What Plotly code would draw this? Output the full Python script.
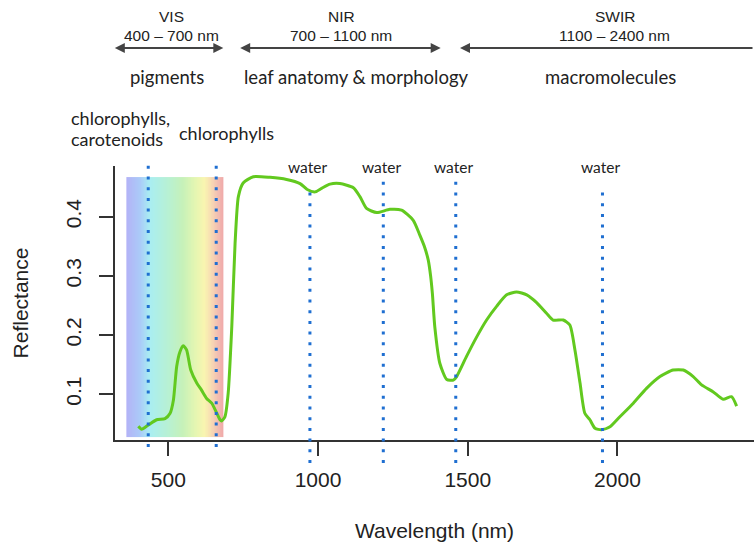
import numpy as np
import plotly.graph_objects as go

# ---- data ----
wavelength = [400, 411, 433, 461, 489, 506, 517, 528, 539, 550, 561, 575, 595, 611, 628,
              645, 662, 673, 678, 689, 700, 712, 723, 734, 750, 784, 840, 895, 940, 964,
              990, 1012, 1040, 1073, 1118, 1140, 1162, 1196, 1240, 1279, 1318, 1340, 1355,
              1368, 1376, 1382, 1390, 1407, 1430, 1452, 1463, 1496, 1530, 1563, 1597, 1630,
              1663, 1697, 1730, 1763, 1785, 1819, 1841, 1858, 1875, 1891, 1908, 1925, 1947,
              1975, 2008, 2053, 2097, 2142, 2186, 2220, 2253, 2281, 2320, 2353, 2381, 2398]
reflectance = [0.046, 0.041, 0.048, 0.057, 0.059, 0.068, 0.090, 0.147, 0.172, 0.182, 0.175,
               0.141, 0.119, 0.107, 0.093, 0.085, 0.068, 0.057, 0.055, 0.062, 0.102, 0.214,
               0.355, 0.434, 0.457, 0.4676, 0.4665, 0.463, 0.456, 0.446, 0.442, 0.448, 0.455,
               0.456, 0.449, 0.434, 0.414, 0.407, 0.4125, 0.411, 0.394, 0.369, 0.350, 0.327,
               0.300, 0.270, 0.214, 0.152, 0.125, 0.124, 0.130, 0.164, 0.197, 0.2255, 0.249,
               0.268, 0.273, 0.268, 0.255, 0.237, 0.2255, 0.2255, 0.217, 0.175, 0.119, 0.068,
               0.057, 0.0426, 0.040, 0.045, 0.062, 0.085, 0.110, 0.130, 0.141, 0.141, 0.130,
               0.116, 0.104, 0.0915, 0.096, 0.080]

pigment_lines = [433, 660]                 # chlorophylls/carotenoids, chlorophylls
water_lines = [973, 1218, 1460, 1950]      # water absorption features
vis_band = [360, 685]                      # visible colour band (nm)
vis_band_refl = [0.028, 0.467]

x_ticks = [500, 1000, 1500, 2000]
y_ticks = [0.1, 0.2, 0.3, 0.4]
y_tick_text = ["0.1", "0.2", "0.3", "0.4"]

# ---- layout geometry (pixels) ----
W, H = 754, 546
L, R, T, B = 115, 754, 166, 440


def pxx(p):
    return (p - L) / (R - L)


def pxy(p):
    return (B - p) / (B - T)


SANS = "Liberation Sans, Arial, sans-serif"
SOFT = "Lato, sans-serif"
INK = "#222222"

fig = go.Figure()

# rainbow band
edges = np.linspace(vis_band[0], vis_band[1], 131)
centers = (edges[:-1] + edges[1:]) / 2
rainbow = [
    [0.00, "#b3b3f7"], [0.14, "#aacbf8"], [0.24, "#a9eef2"], [0.45, "#b9f1d0"],
    [0.58, "#c6f1b9"], [0.71, "#e4f6b2"], [0.81, "#f9f5b0"], [0.88, "#f7dab3"],
    [0.95, "#f2bdb2"], [1.00, "#f0a9a9"],
]
fig.add_trace(go.Heatmap(
    x=edges, y=vis_band_refl, z=[centers],
    colorscale=rainbow, showscale=False, hoverinfo="skip",
))

# reflectance curve
fig.add_trace(go.Scatter(
    x=wavelength, y=reflectance, mode="lines",
    line=dict(color="#62c91f", width=3, shape="spline", smoothing=0.6),
    hoverinfo="skip", showlegend=False,
))

# dotted vertical lines
dot_color = "#1f6fd1"
line_top_px = {433: 161, 660: 161, 973: 187, 1218: 176, 1460: 177, 1950: 185}
line_bot_px = {433: 447, 660: 447, 973: 463, 1218: 463, 1460: 463, 1950: 463}
for wl in pigment_lines + water_lines:
    fig.add_shape(type="line", xref="x", yref="paper", x0=wl, x1=wl,
                  y0=pxy(line_bot_px[wl]), y1=pxy(line_top_px[wl]),
                  line=dict(color=dot_color, width=3, dash="3px,7.7px"))

ann = []


def label(cx, cy, text, family, size, xanchor="center"):
    ann.append(dict(x=pxx(cx), y=pxy(cy), xref="paper", yref="paper", text=text,
                    xanchor=xanchor, yanchor="middle", showarrow=False,
                    font=dict(family=family, size=size, color=INK)))


# water labels
for wl in water_lines:
    ann.append(dict(x=wl, xref="x", y=pxy(167), yref="paper", text="water",
                    xanchor="center", yanchor="middle", showarrow=False, xshift=-2,
                    font=dict(family=SOFT, size=15.5, color=INK)))

# top region labels
for cx, t1, t2 in [(171, "VIS", "400 – 700 nm"), (341, "NIR", "700 – 1100 nm"),
                   (614.5, "SWIR", "1100 – 2400 nm")]:
    label(cx, 16.5, t1, SANS, 15.5)
    label(cx, 35, t2, SANS, 15.5)

for cx, t in [(167.3, "pigments"), (356.3, "leaf anatomy &amp; morphology"),
              (610.5, "macromolecules")]:
    label(cx, 77, t, SOFT, 18.5)

# arrows
arrow_kw = dict(xref="paper", yref="paper", text="", showarrow=True, arrowhead=2,
                arrowsize=1, arrowwidth=2, arrowcolor="#444444", axref="pixel", ayref="pixel")
ann.append(dict(x=pxx(223.3), y=pxy(48), ax=-110, ay=0, arrowside="end+start", **arrow_kw))
ann.append(dict(x=pxx(440.7), y=pxy(48), ax=-202, ay=0, arrowside="end+start", **arrow_kw))
ann.append(dict(x=pxx(460), y=pxy(48), ax=310, ay=0, arrowside="end", **arrow_kw))

# pigment labels
label(69.3, 118.3, "chlorophylls,", SOFT, 18, xanchor="left")
label(69.3, 139, "carotenoids", SOFT, 18, xanchor="left")
label(226.3, 133.3, "chlorophylls", SOFT, 18)

fig.update_layout(
    width=W, height=H,
    margin=dict(l=L, r=W - R, t=T, b=H - B, pad=0),
    paper_bgcolor="white", plot_bgcolor="white",
    showlegend=False,
    annotations=ann,
    xaxis=dict(range=[322, 2456], tickvals=x_ticks, ticks="outside", ticklen=14,
               tickwidth=1.5, tickcolor="#333", showline=True, linecolor="#333",
               linewidth=1.5, showgrid=False, zeroline=False, ticklabelstandoff=6,
               tickfont=dict(family=SANS, size=21, color=INK),
               title=dict(text="Wavelength (nm)", standoff=33,
                          font=dict(family=SANS, size=21, color=INK))),
    yaxis=dict(range=[0.0228, 0.4857], tickvals=y_ticks, ticktext=y_tick_text,
               ticks="outside", ticklen=14, tickwidth=1.5, tickcolor="#333",
               showline=True, linecolor="#333", linewidth=1.5, showgrid=False,
               zeroline=False, tickangle=-90, ticklabelstandoff=10,
               tickfont=dict(family=SANS, size=21, color=INK),
               title=dict(text="Reflectance", standoff=27,
                          font=dict(family=SANS, size=21, color=INK))),
)

fig.write_html("out.html")
